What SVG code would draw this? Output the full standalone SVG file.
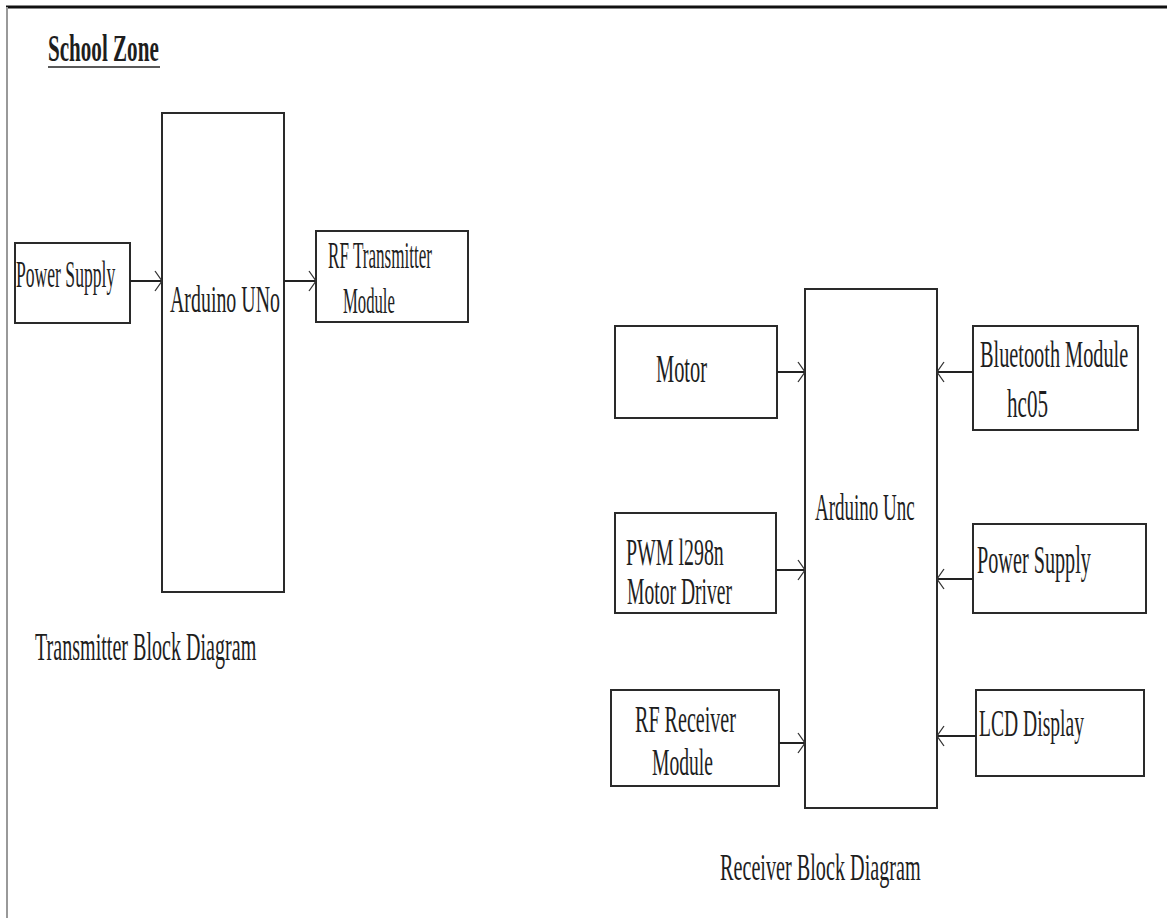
<svg xmlns="http://www.w3.org/2000/svg" width="1167" height="918" viewBox="0 0 1167 918">
<style>
.box{fill:#fff;stroke:#2a2a2a;stroke-width:2}
.t{font-family:"Liberation Serif","Times New Roman",serif;fill:#1e1e1e}
.b{font-weight:bold}
.ln{stroke:#222;stroke-width:2;fill:none}
</style>
<defs>
<marker id="ah" markerUnits="userSpaceOnUse" markerWidth="14" markerHeight="26" viewBox="-12 -12 14 24" refX="0" refY="0" orient="auto">
<path d="M-7,-10 L0,0 L-7,10" fill="none" stroke="#333" stroke-width="1.3"/>
</marker>
</defs>
<rect width="1167" height="918" fill="#fff"/>
<line x1="6" y1="7" x2="1167" y2="7" stroke="#111" stroke-width="3"/>
<line x1="7" y1="7" x2="7" y2="918" stroke="#999" stroke-width="2"/>

<g id="title">
<text class="t b" transform="translate(48,61) scale(1,1.79)" font-size="21.1">School Zone</text>
<line x1="48" y1="67" x2="160" y2="67" stroke="#222" stroke-width="1.6"/>
</g>

<g id="tx-power">
<rect class="box" x="15" y="243" width="115" height="80"/>
<text class="t" transform="translate(16,287) scale(1,2.15)" font-size="17.6">Power Supply</text>
</g>
<g id="tx-arduino">
<rect class="box" x="162" y="113" width="122" height="479"/>
<text class="t" transform="translate(170,312) scale(1,1.9)" font-size="19.9">Arduino UNo</text>
</g>
<g id="tx-rf">
<rect class="box" x="316" y="231" width="152" height="91"/>
<text class="t" transform="translate(328,268) scale(1,2.2)" font-size="17.1">RF Transmitter</text>
<text class="t" transform="translate(343,313) scale(1,2.2)" font-size="16.7">Module</text>
</g>
<g id="tx-caption">
<text class="t" transform="translate(35,660) scale(1,1.95)" font-size="20.1">Transmitter Block Diagram</text>
</g>

<g id="rx-arduino">
<rect class="box" x="805" y="289" width="132" height="519"/>
<text class="t" transform="translate(815,520) scale(1,1.95)" font-size="19">Arduino Unc</text>
</g>
<g id="rx-motor">
<rect class="box" x="615" y="326" width="162" height="92"/>
<text class="t" transform="translate(656,382) scale(1,2.0)" font-size="20.4">Motor</text>
</g>
<g id="rx-pwm">
<rect class="box" x="615" y="513" width="161" height="100"/>
<text class="t" transform="translate(626,565) scale(1,1.9)" font-size="19.9">PWM l298n</text>
<text class="t" transform="translate(627,604) scale(1,1.9)" font-size="19.6">Motor Driver</text>
</g>
<g id="rx-rf">
<rect class="box" x="611" y="690" width="168" height="96"/>
<text class="t" transform="translate(635,732) scale(1,1.85)" font-size="20.1">RF Receiver</text>
<text class="t" transform="translate(652,775) scale(1,1.9)" font-size="19.6">Module</text>
</g>
<g id="rx-bluetooth">
<rect class="box" x="973" y="326" width="165" height="104"/>
<text class="t" transform="translate(980,367) scale(1,1.85)" font-size="20.3">Bluetooth Module</text>
<text class="t" transform="translate(1007,417) scale(1,1.85)" font-size="21.1">hc05</text>
</g>
<g id="rx-power">
<rect class="box" x="973" y="524" width="173" height="89"/>
<text class="t" transform="translate(977,573) scale(1,1.95)" font-size="20.2">Power Supply</text>
</g>
<g id="rx-lcd">
<rect class="box" x="976" y="690" width="168" height="86"/>
<text class="t" transform="translate(979,736) scale(1,1.9)" font-size="19.6">LCD Display</text>
</g>
<g id="rx-caption">
<text class="t" transform="translate(720,880) scale(1,1.9)" font-size="20.2">Receiver Block Diagram</text>
</g>

<g id="connectors">
<line class="ln" x1="130" y1="281" x2="162" y2="281" marker-end="url(#ah)"/>
<line class="ln" x1="284" y1="281" x2="316" y2="281" marker-end="url(#ah)"/>
<line class="ln" x1="777" y1="372" x2="805" y2="372" marker-end="url(#ah)"/>
<line class="ln" x1="776" y1="570" x2="805" y2="570" marker-end="url(#ah)"/>
<line class="ln" x1="779" y1="743" x2="805" y2="743" marker-end="url(#ah)"/>
<line class="ln" x1="973" y1="372" x2="937" y2="372" marker-end="url(#ah)"/>
<line class="ln" x1="973" y1="579" x2="937" y2="579" marker-end="url(#ah)"/>
<line class="ln" x1="976" y1="736" x2="937" y2="736" marker-end="url(#ah)"/>
</g>
</svg>
